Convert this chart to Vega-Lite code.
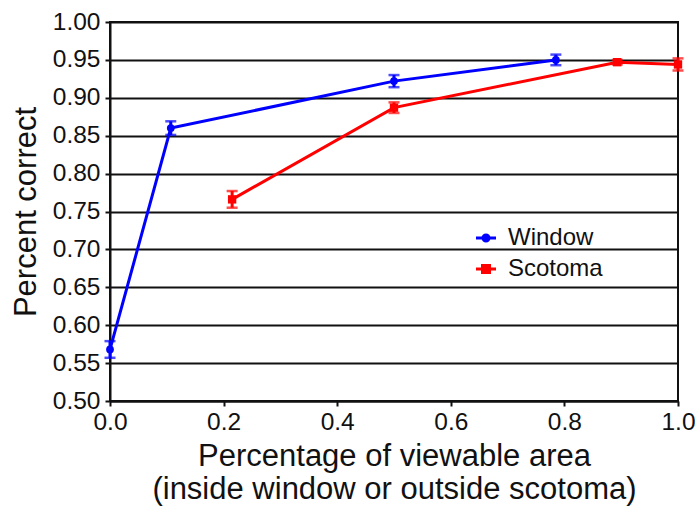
{
  "$schema": "https://vega.github.io/schema/vega-lite/v6.json",
  "width": 568,
  "height": 379,
  "autosize": {"type": "none"},
  "padding": {"left": 110, "top": 22, "right": 21, "bottom": 111},
  "background": "white",
  "config": {
    "font": "Liberation Sans",
    "view": {"stroke": "#111", "strokeWidth": 2},
    "axis": {
      "domainColor": "#111", "domainWidth": 2,
      "tickColor": "#111", "tickWidth": 2, "tickSize": 5,
      "labelFont": "Liberation Sans", "labelFontSize": 24.5, "labelColor": "#111",
      "titleFont": "Liberation Sans", "titleFontSize": 31, "titleFontWeight": "normal", "titleColor": "#111",
      "labelFlush": false, "labelOverlap": false
    },
    "legend": {"labelFont": "Liberation Sans"}
  },
  "data": {
    "values": [
      {"series": "Window", "x": 0.0, "y": 0.568, "lo": 0.557, "hi": 0.579},
      {"series": "Window", "x": 0.107, "y": 0.860, "lo": 0.851, "hi": 0.869},
      {"series": "Window", "x": 0.5, "y": 0.922, "lo": 0.914, "hi": 0.930},
      {"series": "Window", "x": 0.785, "y": 0.950, "lo": 0.943, "hi": 0.957},
      {"series": "Scotoma", "x": 0.215, "y": 0.766, "lo": 0.755, "hi": 0.777},
      {"series": "Scotoma", "x": 0.5, "y": 0.887, "lo": 0.880, "hi": 0.894},
      {"series": "Scotoma", "x": 0.893, "y": 0.947, "lo": 0.944, "hi": 0.950},
      {"series": "Scotoma", "x": 1.0, "y": 0.944, "lo": 0.936, "hi": 0.952}
    ]
  },
  "encoding": {
    "x": {
      "field": "x", "type": "quantitative",
      "scale": {"domain": [0, 1], "nice": false, "zero": false},
      "axis": {
        "values": [0, 0.2, 0.4, 0.6, 0.8, 1.0], "format": ".1f", "grid": false,
        "labelPadding": 4, "titlePadding": 8,
        "title": ["Percentage of viewable area", "(inside window or outside scotoma)"],
        "titleLineHeight": 33
      }
    },
    "color": {
      "field": "series", "type": "nominal",
      "scale": {"domain": ["Window", "Scotoma"], "range": ["#0000ff", "#ff0000"]},
      "legend": {
        "title": null, "orient": "none", "legendX": 364, "legendY": 204,
        "labelFontSize": 24, "labelColor": "#111", "labelOffset": 10,
        "symbolType": "M-1,0H1M-0.3,0A0.3,0.3 0 1,0 0.3,0A0.3,0.3 0 1,0 -0.3,0Z",
        "symbolSize": 400, "symbolStrokeWidth": 3, "rowPadding": 7,
        "encode": {"symbols": {"update": {
          "fill": {"scale": "color", "field": "value"},
          "stroke": {"scale": "color", "field": "value"},
          "shape": {"signal": "datum.value === 'Scotoma' ? 'M-1,0H1M-0.35,-0.35H0.35V0.35H-0.35Z' : 'M-1,0H1M-0.3,0A0.3,0.3 0 1,0 0.3,0A0.3,0.3 0 1,0 -0.3,0Z'"}
        }}}
      }
    }
  },
  "layer": [
    {
      "mark": {"type": "line", "strokeWidth": 3, "clip": false},
      "encoding": {
        "y": {
          "field": "y", "type": "quantitative",
          "scale": {"domain": [0.5, 1.0], "nice": false, "zero": false},
          "axis": {
            "values": [0.5, 0.55, 0.6, 0.65, 0.7, 0.75, 0.8, 0.85, 0.9, 0.95, 1.0],
            "format": ".2f", "grid": true, "gridColor": "#111", "gridWidth": 2, "gridOpacity": 1,
            "labelPadding": 5, "titlePadding": 10, "title": "Percent correct"
          }
        }
      }
    },
    {
      "mark": {"type": "rule", "strokeWidth": 3, "clip": false},
      "encoding": {
        "y": {"field": "lo", "type": "quantitative",
          "axis": {
            "values": [0.5, 0.55, 0.6, 0.65, 0.7, 0.75, 0.8, 0.85, 0.9, 0.95, 1.0],
            "format": ".2f", "grid": true, "gridColor": "#111", "gridWidth": 2, "gridOpacity": 1,
            "labelPadding": 5, "titlePadding": 10, "title": "Percent correct"
          }},
        "y2": {"field": "hi"}
      }
    },
    {
      "mark": {"type": "tick", "thickness": 2.5, "size": 11, "orient": "horizontal", "clip": false},
      "encoding": {"y": {"field": "lo", "type": "quantitative",
          "axis": {
            "values": [0.5, 0.55, 0.6, 0.65, 0.7, 0.75, 0.8, 0.85, 0.9, 0.95, 1.0],
            "format": ".2f", "grid": true, "gridColor": "#111", "gridWidth": 2, "gridOpacity": 1,
            "labelPadding": 5, "titlePadding": 10, "title": "Percent correct"
          }}}
    },
    {
      "mark": {"type": "tick", "thickness": 2.5, "size": 11, "orient": "horizontal", "clip": false},
      "encoding": {"y": {"field": "hi", "type": "quantitative",
          "axis": {
            "values": [0.5, 0.55, 0.6, 0.65, 0.7, 0.75, 0.8, 0.85, 0.9, 0.95, 1.0],
            "format": ".2f", "grid": true, "gridColor": "#111", "gridWidth": 2, "gridOpacity": 1,
            "labelPadding": 5, "titlePadding": 10, "title": "Percent correct"
          }}}
    },
    {
      "transform": [{"filter": "datum.series === 'Window'"}],
      "mark": {"type": "point", "shape": "circle", "filled": true, "opacity": 1, "size": 60, "clip": false},
      "encoding": {"y": {"field": "y", "type": "quantitative",
          "axis": {
            "values": [0.5, 0.55, 0.6, 0.65, 0.7, 0.75, 0.8, 0.85, 0.9, 0.95, 1.0],
            "format": ".2f", "grid": true, "gridColor": "#111", "gridWidth": 2, "gridOpacity": 1,
            "labelPadding": 5, "titlePadding": 10, "title": "Percent correct"
          }}}
    },
    {
      "transform": [{"filter": "datum.series === 'Scotoma'"}],
      "mark": {"type": "point", "shape": "square", "filled": true, "opacity": 1, "size": 70, "clip": false},
      "encoding": {"y": {"field": "y", "type": "quantitative",
          "axis": {
            "values": [0.5, 0.55, 0.6, 0.65, 0.7, 0.75, 0.8, 0.85, 0.9, 0.95, 1.0],
            "format": ".2f", "grid": true, "gridColor": "#111", "gridWidth": 2, "gridOpacity": 1,
            "labelPadding": 5, "titlePadding": 10, "title": "Percent correct"
          }}}
    }
  ]
}
